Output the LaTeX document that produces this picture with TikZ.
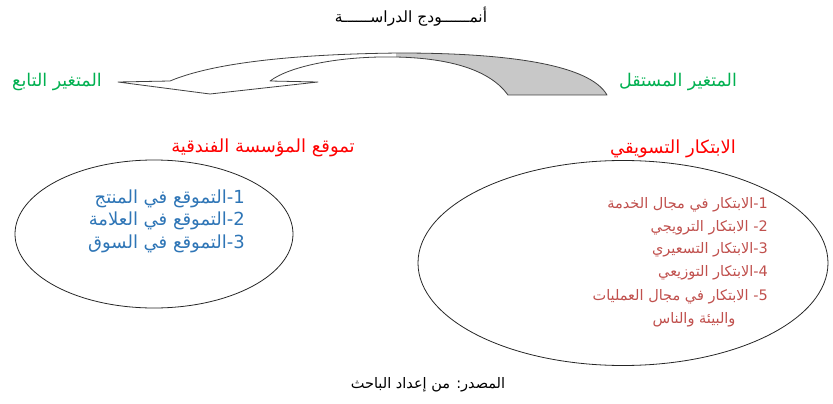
\documentclass[tikz,border=0pt]{standalone}
\usepackage{fontspec}
\TeXXeTstate=1
\newfontfamily\arabicfont[Script=Arabic]{DejaVu Sans}
\definecolor{tgreen}{HTML}{00B050}
\definecolor{tred}{HTML}{FF0000}
\definecolor{tblue}{HTML}{2E75B6}
\definecolor{tbrown}{HTML}{C0504D}
\definecolor{arrowline}{HTML}{404040}
\definecolor{arrowgrey}{HTML}{C8C8C8}
\tikzset{
  arab/.style={font=\arabicfont\fontsize{18}{20}\selectfont, inner sep=0pt},
  arabsmall/.style={font=\arabicfont\fontsize{14.5}{17}\selectfont, inner sep=0pt},
  oval/.style={draw=black!85, line width=0.8pt, ellipse, inner sep=0pt},
  arrowpath/.style={draw=arrowline, line width=0.8pt, line join=round}
}
\usetikzlibrary{shapes.geometric}
\begin{document}
\begin{tikzpicture}[x=1pt,y=-1pt]
\useasboundingbox (0,0) rectangle (833,404);

% title
\node[font=\arabicfont\fontsize{15.5}{18}\selectfont, inner sep=0pt] (title) at (411,17) {\beginR أنمــــــودج الدراســــــة\endR};

% curved arrow
\path[fill=white] (118,82) -- (170,81)
  .. controls (215,62) and (300,54) .. (400,53)
  .. controls (510,53) and (590,65) .. (607,95)
  -- (508,95)
  .. controls (490,70) and (450,58) .. (395,57)
  .. controls (340,56) and (290,66) .. (270,81)
  -- (318,82) -- (210,94) -- cycle;
\begin{scope}
  \clip (396,40) rectangle (620,100);
  \fill[arrowgrey] (118,82) -- (170,81)
  .. controls (215,62) and (300,54) .. (400,53)
  .. controls (510,53) and (590,65) .. (607,95)
  -- (508,95)
  .. controls (490,70) and (450,58) .. (395,57)
  .. controls (340,56) and (290,66) .. (270,81)
  -- (318,82) -- (210,94) -- cycle;
\end{scope}
\draw[arrowpath] (118,82) -- (170,81)
  .. controls (215,62) and (300,54) .. (400,53)
  .. controls (510,53) and (590,65) .. (607,95)
  -- (508,95)
  .. controls (490,70) and (450,58) .. (395,57)
  .. controls (340,56) and (290,66) .. (270,81)
  -- (318,82) -- (210,94) -- cycle;

% variable labels
\node[arab, text=tgreen, font=\arabicfont\fontsize{17.5}{20}\selectfont] (dep) at (57,82) {\beginR المتغير التابع\endR};
\node[arab, text=tgreen, font=\arabicfont\fontsize{17.5}{20}\selectfont] (indep) at (678,82) {\beginR المتغير المستقل\endR};

\node[arab, text=tred] (ltitle) at (263,148) {\beginR تموقع المؤسسة الفندقية\endR};
\node[arab, text=tred] (rtitle) at (673,149) {\beginR الابتكار التسويقي\endR};

% ellipses
\node[oval, minimum width=278pt, minimum height=148pt] (lell) at (154,234) {};
\node[oval, minimum width=410pt, minimum height=205pt] (rell) at (623,263) {};

% left items
\node[arab, text=tblue, anchor=east] (l1) at (245,199) {\beginR 1-التموقع في المنتج\endR};
\node[arab, text=tblue, anchor=east] (l2) at (245,221) {\beginR 2-التموقع في العلامة\endR};
\node[arab, text=tblue, anchor=east] (l3) at (245,244) {\beginR 3-التموقع في السوق\endR};

% right items
\node[arabsmall, text=tbrown, anchor=east] (r1) at (768,205) {\beginR 1-الابتكار في مجال الخدمة\endR};
\node[arabsmall, text=tbrown, anchor=east] (r2) at (768,228) {\beginR 2- الابتكار الترويجي\endR};
\node[arabsmall, text=tbrown, anchor=east] (r3) at (768,250) {\beginR 3-الابتكار التسعيري\endR};
\node[arabsmall, text=tbrown, anchor=east] (r4) at (768,273) {\beginR 4-الابتكار التوزيعي\endR};
\node[arabsmall, text=tbrown, anchor=east] (r5) at (768,297) {\beginR 5- الابتكار في مجال العمليات\endR};
\node[arabsmall, text=tbrown] (r6) at (694,320) {\beginR والبيئة والناس\endR};

% source
\node[arabsmall] (src) at (428,385) {\beginR المصدر: من إعداد الباحث\endR};
\end{tikzpicture}
\end{document}
